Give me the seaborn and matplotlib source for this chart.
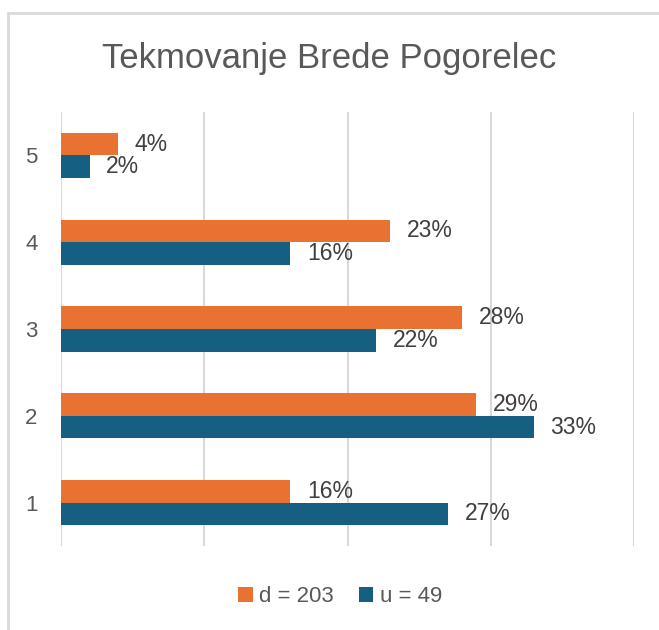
import numpy as np
import pandas as pd
import matplotlib
matplotlib.use('Agg')
import matplotlib.pyplot as plt
from matplotlib.lines import Line2D
from matplotlib.patches import Patch
import seaborn as sns

# Data
categories = ['5', '4', '3', '2', '1']
series_names = ['d = 203', 'u = 49']
d_values = [0.04, 0.23, 0.28, 0.29, 0.16]
u_values = [0.02, 0.16, 0.22, 0.33, 0.27]
colors = ['#E97132', '#156082']

df = pd.DataFrame({
    'cat': categories * 2,
    'series': [series_names[0]] * 5 + [series_names[1]] * 5,
    'value': d_values + u_values,
})

sns.set_style('white')
plt.rcParams['font.family'] = ['Liberation Sans', 'DejaVu Sans']

fig = plt.figure(figsize=(6.59, 6.30), dpi=100)
ax = fig.add_axes([61 / 659, 1 - 546 / 630, (634 - 61) / 659, (546 - 112) / 630])

sns.barplot(data=df, y='cat', x='value', hue='series', order=categories,
            hue_order=series_names, palette=colors, saturation=1, orient='h',
            width=0.52, edgecolor='none', linewidth=0, legend=False, ax=ax)

ax.set_xlim(0, 0.40)
ax.set_ylim(4.5, -0.5)
ax.set_xticks([0, 0.1, 0.2, 0.3, 0.4])
ax.set_xticklabels([])
ax.grid(axis='x', color='#D9D9D9', linewidth=1.5)
ax.grid(axis='y', visible=False)
ax.set_axisbelow(True)
for s in ax.spines.values():
    s.set_visible(False)
ax.tick_params(axis='both', length=0)
ax.tick_params(axis='y', labelsize=16, labelcolor='#595959', pad=17)
ax.set_xlabel('')
ax.set_ylabel('')

for cont in ax.containers:
    ax.bar_label(cont, labels=[f'{v * 100:.0f}%' for v in cont.datavalues],
                 padding=12, fontsize=16.5, color='#404040')

fig.text(0.5, 1 - 68 / 630, 'Tekmovanje Brede Pogorelec', ha='center', va='baseline',
         fontsize=25, color='#595959')

handles = [Patch(facecolor=c, edgecolor='none') for c in colors]
fig.legend(handles, series_names, loc='center', bbox_to_anchor=(0.516, 1 - 597 / 630),
           ncol=2, frameon=False, fontsize=16, labelcolor='#595959',
           handlelength=0.65, handleheight=0.65, handletextpad=0.3, columnspacing=1.1)

# chart border (top and left visible)
fig.add_artist(Line2D([7.5 / 659, 7.5 / 659], [0, 1 - 13 / 630], color='#D9D9D9',
                      linewidth=2, transform=fig.transFigure))
fig.add_artist(Line2D([7.5 / 659, 1], [1 - 13 / 630, 1 - 13 / 630], color='#D9D9D9',
                      linewidth=2, transform=fig.transFigure))

fig.savefig('out.png', dpi=100, facecolor='white')
